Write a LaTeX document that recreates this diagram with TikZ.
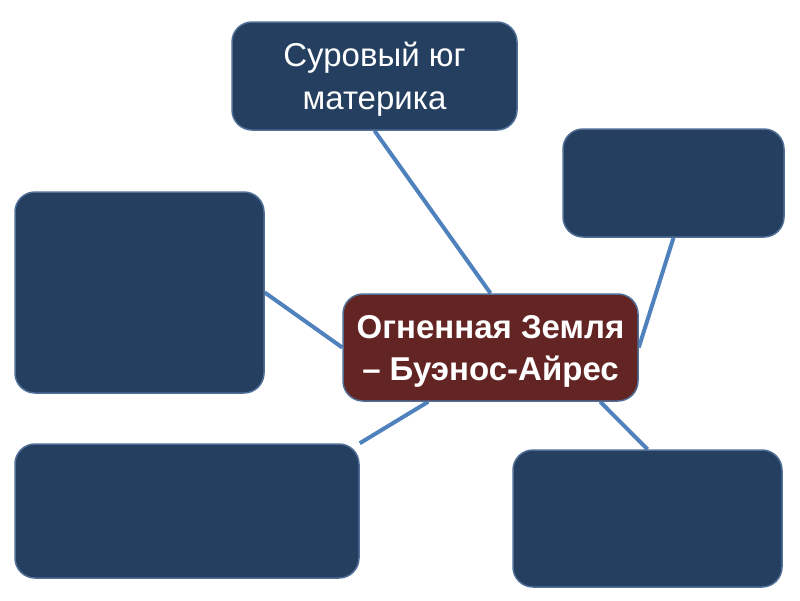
\documentclass[tikz,border=0pt]{standalone}
\usepackage{fontspec}
\setmainfont{Liberation Sans}
\usetikzlibrary{calc,backgrounds}
\definecolor{boxblue}{RGB}{36,63,96}
\definecolor{boxedge}{RGB}{80,110,150}
\definecolor{hubred}{RGB}{99,37,35}
\definecolor{linkblue}{RGB}{79,129,189}
\tikzset{
  mm box/.style={
    rectangle,
    rounded corners=20pt,
    draw=boxedge,
    line width=1.5pt,
    fill=boxblue,
    text=white,
    align=center,
    inner sep=0pt,
  },
  mm hub/.style={
    mm box,
    fill=hubred,
    text depth=0pt,
    font=\fontsize{33}{42}\selectfont\bfseries,
  },
  mm link/.style={draw=linkblue, line width=4pt},
}

\begin{document}
\begin{tikzpicture}[x=1pt,y=-1pt]
  \useasboundingbox (0,0) rectangle (800,600);
  \node[mm hub,minimum width=295pt,minimum height=107pt] (hub) at (490.5,347.5)
    {Огненная Земля\\– Буэнос-Айрес};
  \node[mm box,minimum width=285pt,minimum height=108pt,text depth=0pt,
        font=\fontsize{33}{43}\selectfont] (south) at (374.5,76)
    {Суровый юг\\материка};
  \node[mm box,minimum width=221pt,minimum height=108pt] (ne) at (673.5,183) {};
  \node[mm box,minimum width=249pt,minimum height=201pt] (w) at (139.5,292.5) {};
  \node[mm box,minimum width=344pt,minimum height=134pt] (sw) at (187,511) {};
  \node[mm box,minimum width=269pt,minimum height=137pt] (se) at (647.5,518.5) {};

  \begin{scope}[on background layer]
    \draw[mm link] (south.south) -- (hub.north);
    \draw[mm link] (ne.south) -- (hub.east);
    \draw[mm link] (w.east) -- (hub.west);
    \draw[mm link] (sw.north east) -- ($(hub.south west)!0.29!(hub.south east)$);
    \draw[mm link] ($(hub.south west)!0.87!(hub.south east)$) -- (se.north);
  \end{scope}
\end{tikzpicture}
\end{document}
